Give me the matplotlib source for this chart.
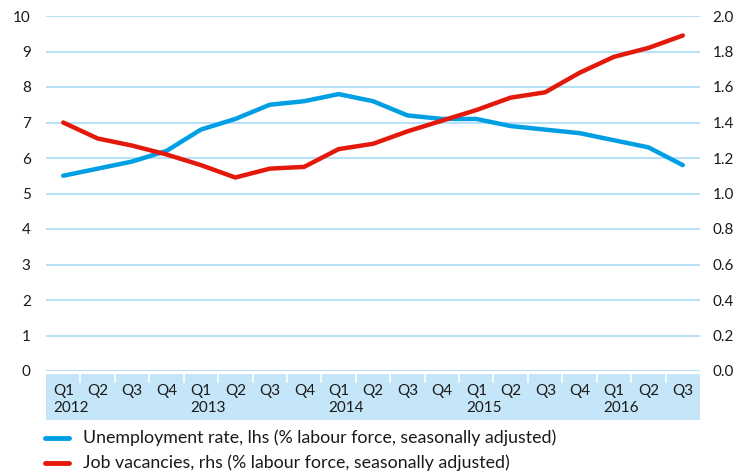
import matplotlib.pyplot as plt

plt.rcParams['font.family'] = ['Lato', 'DejaVu Sans']

quarters = ['Q1', 'Q2', 'Q3', 'Q4'] * 4 + ['Q1', 'Q2', 'Q3']
years = ['2012', '', '', '', '2013', '', '', '', '2014', '', '', '',
         '2015', '', '', '', '2016', '', '']
unemployment = [5.5, 5.7, 5.9, 6.2, 6.8, 7.1, 7.5, 7.6, 7.8, 7.6, 7.2, 7.1,
                7.1, 6.9, 6.8, 6.7, 6.5, 6.3, 5.8]
vacancies = [1.40, 1.31, 1.27, 1.22, 1.16, 1.09, 1.14, 1.15, 1.25, 1.28,
             1.35, 1.41, 1.47, 1.54, 1.57, 1.68, 1.77, 1.82, 1.89]

blue = '#009fe3'
red = '#e3190b'
grid_c = '#a9dcf5'
band_c = '#c5e5f8'
text_c = '#1a1a1a'

W, H = 741, 472
fig = plt.figure(figsize=(W / 100, H / 100), dpi=100)
x0, x1, ytop, ybot = 46, 700, 16, 371
ax = fig.add_axes([x0 / W, 1 - ybot / H, (x1 - x0) / W, (ybot - ytop) / H])
n = len(unemployment)
xs = list(range(n))

ax.set_xlim(-0.5, n - 0.5)
ax.set_ylim(0, 10)
ax.set_yticks(range(0, 11))
for v in range(0, 11):
    ax.axhline(v, color=grid_c, lw=1.2, zorder=0)
for s in ax.spines.values():
    s.set_visible(False)
ax.set_xticks([])
ax.tick_params(axis='y', length=0, labelsize=11, labelcolor=text_c, pad=11)

ax2 = ax.twinx()
ax2.set_ylim(0, 2)
ax2.set_yticks([i * 0.2 for i in range(11)])
ax2.set_yticklabels(['%.1f' % (i * 0.2) for i in range(11)])
for s in ax2.spines.values():
    s.set_visible(False)
ax2.tick_params(axis='y', length=0, labelsize=11, labelcolor=text_c, pad=9)

l1, = ax.plot(xs, unemployment, color=blue, lw=3.2, solid_capstyle='round', zorder=3)
l2, = ax2.plot(xs, vacancies, color=red, lw=3.2, solid_capstyle='round', zorder=3)

# category band under the axis
bax = fig.add_axes([x0 / W, 1 - 420 / H, (x1 - x0) / W, (420 - 374) / H])
bax.set_facecolor(band_c)
bax.set_xlim(-0.5, n - 0.5)
bax.set_ylim(0, 46)
bax.set_xticks([])
bax.set_yticks([])
for s in bax.spines.values():
    s.set_visible(False)
for k in range(n - 1):
    bax.plot([k + 0.5, k + 0.5], [46, 38], color='white', lw=1.2)
for k in range(n):
    bax.text(k - 0.3, 29, quarters[k], ha='left', va='center',
             fontsize=11, color=text_c)
    if years[k]:
        bax.text(k - 0.3, 12, years[k], ha='left', va='center',
                 fontsize=11, color=text_c)

# legend
fig.lines.append(plt.Line2D([45 / W, 69 / W], [1 - 438 / H] * 2, color=blue,
                            lw=3.5, solid_capstyle='round', transform=fig.transFigure))
fig.lines.append(plt.Line2D([45 / W, 69 / W], [1 - 463 / H] * 2, color=red,
                            lw=3.5, solid_capstyle='round', transform=fig.transFigure))
fig.text(83 / W, 1 - 438 / H, 'Unemployment rate, lhs (% labour force, seasonally adjusted)',
         va='center', ha='left', fontsize=12.8, color=text_c)
fig.text(83 / W, 1 - 463 / H, 'Job vacancies, rhs (% labour force, seasonally adjusted)',
         va='center', ha='left', fontsize=12.8, color=text_c)

fig.savefig('out.png', dpi=100)
